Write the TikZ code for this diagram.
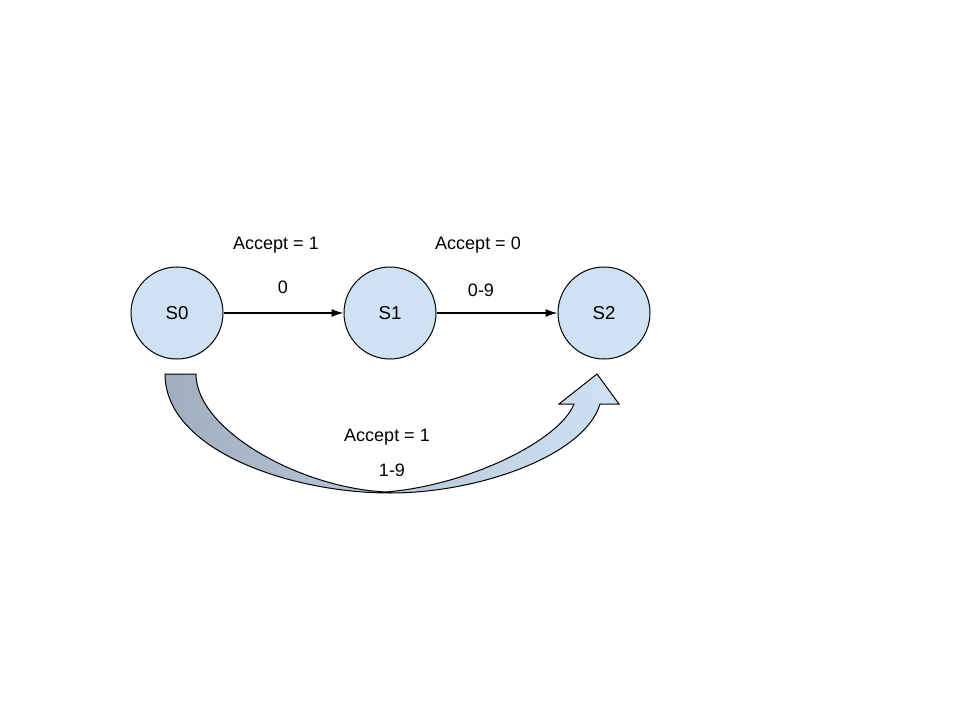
\documentclass[tikz,border=0pt]{standalone}
\usepackage{fontspec}
\setmainfont{Liberation Sans}
\usetikzlibrary{arrows.meta, positioning}
\definecolor{statefill}{HTML}{CFE2F3}
\definecolor{tailfill}{HTML}{A0AFBF}
\begin{document}
\begin{tikzpicture}[
    x=0.75pt, y=-0.75pt,
    state/.style={draw, circle, line width=0.75pt, fill=statefill, minimum size=69pt, inner sep=0pt, font=\fontsize{14}{16}\selectfont},
    lbl/.style={font=\fontsize{13.5}{16}\selectfont, inner sep=1pt},
    arr/.style={-{Latex[length=9pt, width=6pt]}, line width=1pt}
]
\useasboundingbox (0,0) rectangle (960,720);
\fill[white] (0,0) rectangle (960,720);

\node[state] (s0) at (177,313) {S0};
\node[state] (s1) at (390,313) {S1};
\node[state] (s2) at (604,313) {S2};

\node[lbl] (acc01) at (276,245) {Accept = 1};
\node[lbl] (in01) at (283,287) {0};
\node[lbl] (acc12) at (478,245) {Accept = 0};
\node[lbl] (in12) at (481,290) {0-9};

\draw[arr] (s0) -- (s1);
\draw[arr] (s1) -- (s2);

% curved block arrow S0 -> S2
\coordinate (tailL) at (165,374);
\coordinate (tailR) at (196,374);
\coordinate (tip) at (597,374);
\draw[line width=0.75pt, left color=tailfill, right color=statefill, shading=axis]
  (tailL) .. controls (165,450) and (290,493) .. (390,493)
  .. controls (480,493) and (585,455) .. (600,404)
  -- (619,404) -- (tip) -- (559,404) -- (574,404)
  .. controls (560,440) and (470,485) .. (386,492)
  .. controls (300,488) and (196,430) .. (tailR) -- cycle;

\node[lbl] (acc02) at (387,437) {Accept = 1};
\node[lbl] (in02) at (392,470) {1-9};
\end{tikzpicture}
\end{document}
